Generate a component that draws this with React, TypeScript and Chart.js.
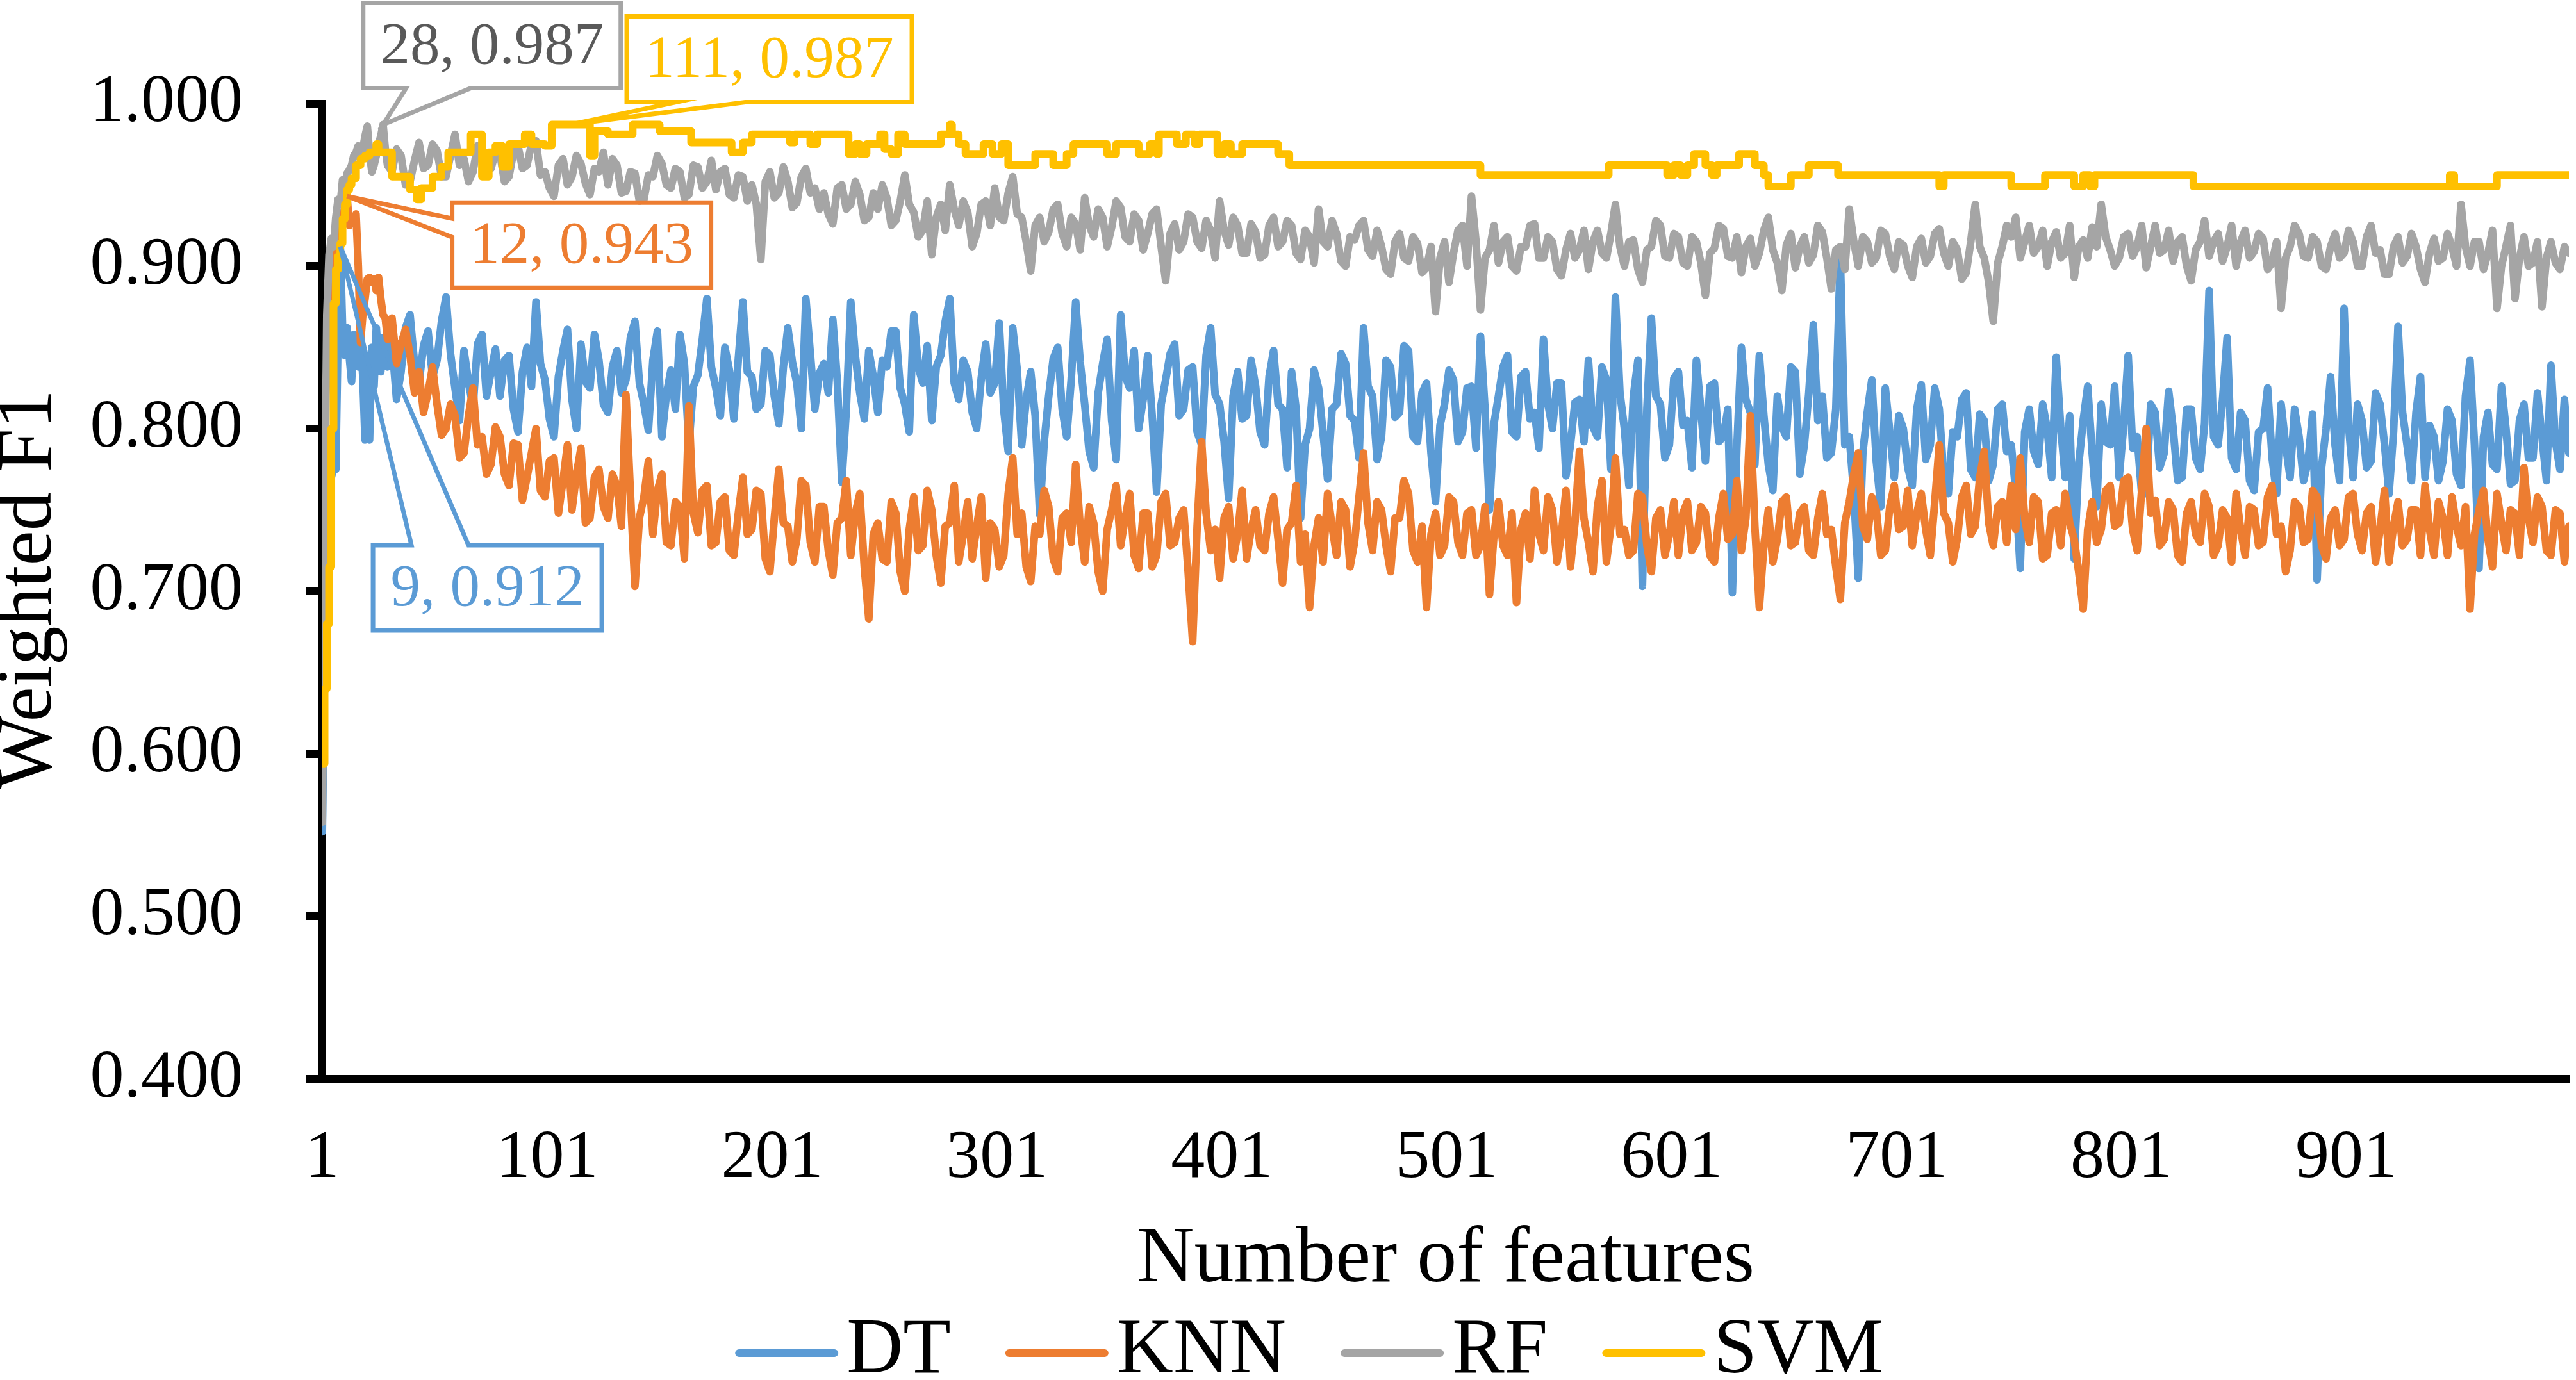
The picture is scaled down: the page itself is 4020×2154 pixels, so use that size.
import React, { useEffect, useRef } from 'react';
import { Chart, registerables, Plugin } from 'chart.js';

Chart.register(...registerables);

const FONT = "'Liberation Serif', 'Times New Roman', serif";

// Feature counts that were sampled: every count up to 30, then every 2nd one
const featureCounts: number[] = [];
for (let n = 1; n <= 30; n++) featureCounts.push(n);
for (let n = 32; n <= 1000; n += 2) featureCounts.push(n);

const xTickValues = [1, 101, 201, 301, 401, 501, 601, 701, 801, 901];

// Weighted F1 per sampled feature count
const dtF1 = [
  .552, .655, .722, .760, .770, .776, .775, .860, .912, .862, .845, .862, .844, .829, .858,
  .852, .838, .855, .832, .793, .840, .793, .850, .826, .862, .843, .835, .856, .848, .838,
  .852, .818, .835, .862, .870, .840, .828, .851, .860, .832, .842, .866,
  .881, .846, .825, .805, .848, .829, .813, .852, .858, .820, .835, .849,
  .820, .842, .845, .812, .798, .835, .850, .826, .878, .840, .830, .806,
  .795, .832, .848, .861, .818, .800, .852, .829, .825, .858, .842, .815,
  .810, .838, .848, .822, .830, .856, .866, .828, .815, .799, .842, .860,
  .795, .821, .836, .812, .858, .840, .790, .826, .833, .855, .880, .838,
  .825, .808, .850, .836, .806, .843, .878, .835, .832, .812, .815, .848,
  .845, .820, .803, .838, .862, .841, .828, .800, .880, .846, .812, .834,
  .840, .822, .867, .829, .767, .812, .878, .845, .822, .806, .848, .832,
  .810, .842, .838, .860, .860, .825, .815, .798, .870, .838, .828, .851,
  .805, .838, .845, .866, .880, .828, .818, .842, .835, .810, .800, .831,
  .852, .822, .828, .865, .812, .786, .862, .836, .790, .818, .835, .808,
  .747, .792, .820, .843, .850, .812, .795, .830, .878, .841, .815, .786,
  .776, .822, .840, .855, .805, .781, .870, .832, .825, .848, .800, .818,
  .845, .808, .761, .815, .830, .846, .852, .808, .812, .836, .838, .798,
  .790, .845, .862, .821, .815, .792, .757, .820, .835, .806, .808, .842,
  .826, .798, .790, .832, .848, .815, .812, .776, .835, .812, .745, .790,
  .800, .836, .825, .797, .769, .812, .815, .846, .840, .808, .805, .782,
  .862, .826, .820, .781, .795, .842, .838, .807, .810, .851, .848, .795,
  .792, .822, .828, .785, .755, .802, .815, .836, .830, .792, .798, .825,
  .826, .788, .857, .812, .750, .803, .820, .838, .845, .798, .795, .832,
  .835, .806, .810, .788, .855, .815, .800, .828, .828, .771, .790, .816,
  .818, .792, .842, .801, .795, .838, .830, .775, .881, .822, .800, .765,
  .820, .842, .703, .812, .868, .820, .815, .782, .790, .831, .835, .802,
  .805, .776, .842, .811, .780, .826, .828, .792, .795, .812, .699, .788,
  .850, .818, .810, .778, .845, .808, .778, .762, .820, .801, .795, .838,
  .835, .772, .790, .822, .864, .805, .820, .782, .785, .812, .906, .790,
  .795, .760, .708, .785, .810, .830, .780, .752, .825, .798, .770, .808,
  .800, .776, .765, .812, .827, .781, .790, .825, .812, .770, .760, .798,
  .795, .818, .822, .775, .770, .809, .805, .768, .778, .812, .815, .786,
  .790, .762, .714, .798, .812, .786, .778, .815, .800, .770, .844, .801,
  .770, .808, .720, .778, .805, .826, .785, .752, .815, .792, .790, .826,
  .770, .802, .845, .788, .795, .760, .760, .815, .810, .776, .785, .823,
  .800, .768, .770, .812, .812, .782, .775, .803, .885, .795, .790, .818,
  .856, .782, .775, .810, .805, .768, .762, .798, .800, .825, .782, .760,
  .815, .790, .770, .812, .795, .768, .780, .809, .707, .776, .800, .832,
  .790, .768, .874, .802, .770, .815, .805, .776, .780, .822, .815, .790,
  .760, .798, .863, .810, .790, .768, .810, .832, .770, .802, .795, .768,
  .780, .812, .805, .772, .765, .820, .842, .790, .714, .795, .810, .778,
  .775, .826, .800, .766, .768, .805, .815, .782, .782, .822, .795, .768,
  .839, .792, .775, .818, .785,
];

const knnF1 = [
  .765, .810, .835, .850, .872, .895, .910, .918, .925, .930, .936, .943, .925, .930, .928,
  .932, .900, .853, .870, .880, .892, .893, .890, .892, .885, .893, .880, .870, .868, .855,
  .868, .840, .852, .861, .845, .822, .835, .810, .822, .838, .815, .796,
  .800, .815, .808, .782, .785, .808, .825, .790, .795, .772, .778, .801,
  .795, .772, .765, .791, .790, .756, .770, .785, .800, .762, .758, .780,
  .782, .748, .768, .790, .750, .772, .788, .742, .745, .770, .775, .752,
  .745, .772, .765, .740, .821, .760, .703, .745, .758, .780, .735, .762,
  .772, .730, .728, .755, .752, .720, .814, .748, .736, .762, .765, .728,
  .730, .755, .758, .725, .722, .748, .770, .735, .738, .762, .760, .720,
  .712, .745, .775, .742, .740, .718, .732, .768, .765, .730, .718, .752,
  .752, .725, .710, .742, .745, .768, .722, .748, .760, .715, .683, .735,
  .742, .720, .718, .755, .748, .712, .700, .738, .758, .725, .728, .762,
  .750, .722, .705, .740, .742, .765, .718, .735, .755, .720, .740, .758,
  .708, .742, .738, .715, .722, .760, .782, .735, .748, .715, .706, .740,
  .735, .762, .752, .720, .712, .745, .748, .730, .778, .740, .718, .752,
  .742, .712, .700, .738, .750, .765, .728, .745, .760, .722, .714, .748,
  .748, .715, .722, .755, .760, .728, .730, .745, .750, .712, .669, .740,
  .792, .748, .725, .738, .708, .745, .752, .720, .735, .762, .720, .738,
  .750, .728, .725, .748, .758, .732, .705, .738, .742, .765, .718, .735,
  .690, .728, .745, .718, .760, .740, .722, .755, .750, .715, .730, .758,
  .785, .742, .725, .755, .750, .728, .712, .745, .745, .768, .760, .725,
  .718, .740, .690, .735, .748, .722, .728, .758, .755, .730, .722, .748,
  .750, .722, .728, .752, .698, .735, .755, .728, .722, .748, .693, .738,
  .748, .720, .762, .735, .725, .758, .750, .718, .735, .762, .715, .742,
  .786, .745, .730, .712, .752, .768, .718, .740, .782, .735, .738, .722,
  .725, .760, .758, .728, .712, .745, .750, .722, .735, .755, .722, .748,
  .755, .725, .730, .752, .748, .722, .718, .745, .760, .732, .735, .768,
  .725, .745, .808, .740, .690, .728, .750, .718, .732, .755, .758, .728,
  .730, .748, .752, .725, .722, .745, .760, .735, .738, .715, .695, .742,
  .755, .772, .785, .740, .732, .758, .750, .722, .725, .752, .765, .738,
  .740, .762, .728, .748, .760, .738, .722, .755, .790, .748, .742, .718,
  .732, .758, .765, .735, .740, .770, .786, .742, .728, .752, .755, .730,
  .765, .738, .782, .745, .730, .758, .755, .720, .722, .748, .750, .728,
  .760, .742, .732, .712, .689, .738, .755, .730, .738, .762, .765, .740,
  .742, .768, .770, .738, .725, .762, .800, .748, .756, .728, .732, .755,
  .750, .722, .718, .748, .755, .735, .730, .760, .752, .722, .728, .750,
  .745, .718, .760, .738, .722, .752, .750, .728, .730, .758, .765, .735,
  .740, .712, .725, .755, .752, .730, .732, .762, .758, .728, .720, .745,
  .750, .728, .732, .758, .760, .735, .725, .748, .752, .718, .738, .762,
  .718, .740, .755, .728, .732, .750, .750, .722, .765, .738, .722, .755,
  .745, .722, .758, .740, .728, .752, .689, .735, .750, .762, .732, .715,
  .760, .742, .725, .750, .748, .722, .776, .745, .730, .758, .752, .725,
  .722, .750, .748, .718, .740,
];

const rfF1 = [
  .558, .730, .870, .907, .917, .912, .930, .941, .938, .953, .950, .957, .959, .962, .968,
  .970, .974, .968, .972, .980, .986, .970, .958, .962, .968, .975, .980, .987, .972, .962,
  .958, .972, .968, .950, .952, .965, .976, .960, .962, .975, .971, .955,
  .955, .968, .981, .962, .966, .952, .958, .974, .973, .961, .960, .970,
  .969, .952, .955, .970, .974, .960, .962, .975, .977, .956, .958, .948,
  .943, .962, .966, .950, .955, .968, .963, .951, .944, .960, .958, .970,
  .950, .966, .962, .945, .946, .958, .957, .940, .941, .956, .955, .968,
  .963, .950, .948, .960, .958, .942, .944, .962, .961, .948, .952, .965,
  .947, .958, .960, .944, .942, .956, .955, .940, .950, .938, .904, .952,
  .958, .942, .945, .961, .952, .936, .939, .955, .960, .945, .948, .935,
  .945, .932, .926, .948, .950, .935, .938, .952, .944, .928, .930, .945,
  .935, .950, .942, .925, .928, .940, .956, .938, .933, .918, .922, .940,
  .907, .930, .938, .922, .950, .935, .925, .940, .933, .912, .920, .938,
  .940, .925, .948, .930, .928, .945, .955, .932, .930, .915, .897, .925,
  .930, .915, .921, .935, .938, .920, .912, .930, .926, .910, .942, .925,
  .918, .935, .930, .912, .924, .940, .936, .918, .915, .932, .928, .910,
  .920, .932, .935, .912, .891, .920, .926, .910, .915, .932, .930, .915,
  .911, .928, .922, .905, .940, .922, .913, .930, .925, .908, .908, .926,
  .921, .905, .907, .925, .930, .912, .915, .928, .925, .908, .904, .922,
  .918, .902, .935, .915, .912, .928, .920, .903, .900, .918, .916, .925,
  .928, .910, .906, .922, .912, .898, .895, .915, .920, .905, .903, .918,
  .914, .896, .899, .912, .872, .905, .915, .890, .908, .922, .925, .900,
  .943, .915, .873, .905, .910, .925, .902, .915, .918, .900, .897, .912,
  .912, .925, .926, .905, .905, .918, .915, .898, .894, .910, .920, .905,
  .910, .922, .898, .915, .922, .908, .905, .920, .938, .912, .900, .915,
  .916, .898, .890, .910, .912, .928, .925, .906, .905, .920, .918, .902,
  .900, .918, .915, .902, .882, .908, .911, .925, .923, .906, .905, .918,
  .896, .912, .917, .900, .908, .922, .930, .910, .902, .885, .913, .920,
  .899, .912, .918, .902, .907, .925, .921, .905, .886, .910, .912, .898,
  .935, .915, .900, .918, .915, .902, .905, .922, .920, .906, .898, .915,
  .913, .900, .893, .912, .917, .902, .906, .920, .923, .908, .900, .915,
  .910, .892, .896, .915, .938, .912, .905, .890, .866, .902, .912, .925,
  .918, .930, .905, .915, .925, .908, .912, .922, .900, .915, .921, .905,
  .908, .925, .893, .912, .916, .905, .924, .912, .938, .918, .910, .900,
  .905, .918, .920, .906, .912, .925, .899, .912, .925, .908, .910, .922,
  .903, .915, .918, .900, .891, .910, .915, .928, .906, .915, .920, .903,
  .912, .925, .900, .915, .922, .905, .909, .920, .917, .898, .902, .915,
  .874, .905, .912, .925, .920, .906, .905, .918, .915, .900, .898, .912,
  .920, .905, .908, .922, .915, .900, .900, .918, .925, .908, .910, .895,
  .895, .912, .918, .902, .906, .920, .912, .898, .890, .908, .917, .903,
  .905, .920, .912, .900, .938, .912, .900, .915, .915, .898, .908, .922,
  .874, .900, .912, .925, .880, .905, .918, .900, .902, .915, .875, .905,
  .915, .902, .898, .912, .908,
];

// SVM changes in steps: [feature count where the level starts, weighted F1]
const svmSteps: [number, number][] = [
  [1, .594], [2, .640], [3, .680], [4, .715], [5, .800], [6, .877], [7, .898], [8, .906],
  [9, .914], [10, .929], [11, .938], [12, .947], [13, .950], [14, .954], [16, .962],
  [18, .966], [20, .968], [22, .970], [25, .975], [26, .970], [32, .955], [40, .947],
  [43, .941], [45, .948], [50, .955], [54, .961], [57, .970], [67, .981], [72, .955],
  [75, .970], [78, .974], [81, .961], [84, .975], [91, .981], [94, .975], [100, .974],
  [103, .987], [120, .968], [122, .983], [128, .981], [139, .987], [151, .983], [165, .976],
  [183, .970], [188, .976], [192, .981], [209, .976], [211, .981], [218, .975], [221, .981],
  [235, .969], [238, .975], [240, .969], [243, .975], [249, .981], [251, .972], [254, .969],
  [257, .981], [260, .975], [276, .981], [280, .987], [281, .981], [284, .975], [287, .969],
  [295, .975], [299, .969], [303, .975], [306, .962], [318, .969], [326, .962], [332, .969],
  [335, .975], [350, .969], [354, .975], [364, .969], [369, .975], [372, .969], [373, .981],
  [381, .975], [385, .981], [389, .975], [391, .981], [399, .969], [402, .975], [405, .969],
  [410, .975], [426, .969], [431, .962], [516, .956], [573, .962], [599, .956], [602, .962],
  [605, .956], [608, .962], [611, .969], [616, .962], [619, .956], [621, .962], [631, .969],
  [638, .962], [642, .956], [644, .949], [654, .956], [662, .962], [675, .956], [720, .949],
  [722, .956], [752, .949], [767, .956], [780, .949], [784, .956], [787, .949], [789, .956],
  [833, .949], [947, .956], [949, .949], [968, .956], [1000, .956],
];

const seriesColors = ['#5B9BD5', '#ED7D31', '#A5A5A5', '#FFC000'];

// Best result of each model, labelled with a callout
type Callout = {
  feature: number; score: number; border: string; text: string;
  dx: number; dy: number; w: number; h: number;
  side: 'top' | 'bottom' | 'left'; a: number; b: number;
};
const callouts: Callout[] = [
  { feature: 9, score: 0.912, border: '#5B9BD5', text: '#5B9BD5', dx: 51, dy: 466, w: 357, h: 133, side: 'top', a: 60, b: 149 },
  { feature: 12, score: 0.943, border: '#ED7D31', text: '#ED7D31', dx: 164, dy: 10, w: 404, h: 133, side: 'left', a: 25, b: 54 },
  { feature: 28, score: 0.987, border: '#A5A5A5', text: '#595959', dx: -31, dy: -190, w: 402, h: 133, side: 'bottom', a: 67, b: 168 },
  { feature: 111, score: 0.987, border: '#FFC000', text: '#FFC000', dx: 89, dy: -169, w: 445, h: 134, side: 'bottom', a: 77, b: 185 },
];

const calloutPlugin: Plugin<'line'> = {
  id: 'callouts',
  afterDatasetsDraw(chart) {
    const { ctx } = chart;
    const x = chart.scales.x;
    const y = chart.scales.y;
    ctx.save();
    for (const c of callouts) {
      const ax = x.getPixelForValue(c.feature);
      const ay = y.getPixelForValue(c.score);
      const left = ax + c.dx;
      const top = ay + c.dy;
      const right = left + c.w;
      const bottom = top + c.h;
      ctx.beginPath();
      ctx.moveTo(left, top);
      if (c.side === 'top') {
        ctx.lineTo(left + c.a, top);
        ctx.lineTo(ax, ay);
        ctx.lineTo(left + c.b, top);
      }
      ctx.lineTo(right, top);
      ctx.lineTo(right, bottom);
      if (c.side === 'bottom') {
        ctx.lineTo(left + c.b, bottom);
        ctx.lineTo(ax, ay);
        ctx.lineTo(left + c.a, bottom);
      }
      ctx.lineTo(left, bottom);
      if (c.side === 'left') {
        ctx.lineTo(left, top + c.b);
        ctx.lineTo(ax, ay);
        ctx.lineTo(left, top + c.a);
      }
      ctx.closePath();
      ctx.strokeStyle = c.border;
      ctx.lineWidth = 7;
      ctx.lineJoin = 'miter';
      ctx.stroke();
      ctx.fillStyle = c.text;
      ctx.font = `93px ${FONT}`;
      ctx.textAlign = 'center';
      ctx.textBaseline = 'middle';
      ctx.fillText(`${c.feature}, ${c.score.toFixed(3)}`, (left + right) / 2, (top + bottom) / 2 + 3);
    }
    ctx.restore();
  },
  afterDraw(chart) {
    const { ctx } = chart;
    ctx.save();
    // y axis title
    ctx.translate(47, 920);
    ctx.rotate(-Math.PI / 2);
    ctx.font = `122px ${FONT}`;
    ctx.fillStyle = '#000';
    ctx.textAlign = 'center';
    ctx.textBaseline = 'middle';
    ctx.fillText('Weighted F1', 0, 0);
    ctx.restore();

    // legend
    ctx.save();
    ctx.font = `122px ${FONT}`;
    const items = chart.data.datasets.map((ds) => ({ label: String(ds.label), color: String(ds.borderColor) }));
    const sample = 161;
    const gapText = 13;
    const gapItem = 85;
    const widths = items.map((it) => ctx.measureText(it.label).width);
    const total = widths.reduce((s, w) => s + sample + gapText + w, 0) + gapItem * (items.length - 1);
    let cx = 2043 - total / 2;
    items.forEach((it, i) => {
      ctx.strokeStyle = it.color;
      ctx.lineWidth = 12;
      ctx.lineCap = 'round';
      ctx.beginPath();
      ctx.moveTo(cx + 6, 2112);
      ctx.lineTo(cx + sample - 6, 2112);
      ctx.stroke();
      ctx.fillStyle = '#000';
      ctx.textAlign = 'left';
      ctx.textBaseline = 'middle';
      ctx.fillText(it.label, cx + sample + gapText, 2110);
      cx += sample + gapText + widths[i] + gapItem;
    });
    ctx.restore();
  },
};

const lineStyle = {
  borderWidth: 12,
  pointRadius: 0,
  pointHoverRadius: 0,
  fill: false,
  tension: 0,
  borderJoinStyle: 'round' as const,
  borderCapStyle: 'round' as const,
};

const App: React.FC = () => {
  const canvasRef = useRef<HTMLCanvasElement | null>(null);
  const chartRef = useRef<Chart | null>(null);

  useEffect(() => {
    if (!canvasRef.current) return;
    const ctx = canvasRef.current.getContext('2d');
    if (!ctx) return;
    if (chartRef.current) chartRef.current.destroy();

    chartRef.current = new Chart(ctx, {
      type: 'line',
      data: {
        datasets: [
          { label: 'DT', data: featureCounts.map((n, i) => ({ x: n, y: dtF1[i] })), borderColor: seriesColors[0], order: 3, ...lineStyle },
          { label: 'KNN', data: featureCounts.map((n, i) => ({ x: n, y: knnF1[i] })), borderColor: seriesColors[1], order: 2, ...lineStyle },
          { label: 'RF', data: featureCounts.map((n, i) => ({ x: n, y: rfF1[i] })), borderColor: seriesColors[2], order: 1, ...lineStyle },
          { label: 'SVM', data: svmSteps.map(([n, v]) => ({ x: n, y: v })), borderColor: seriesColors[3], order: 0, stepped: true, ...lineStyle },
        ],
      },
      options: {
        animation: false,
        responsive: false,
        devicePixelRatio: 1,
        layout: { padding: { top: 160, right: 11, bottom: 144, left: 0 } },
        plugins: {
          legend: { display: false },
          tooltip: { enabled: false },
        },
        scales: {
          x: {
            type: 'linear',
            min: 1,
            max: 1000,
            afterBuildTicks: (scale) => {
              scale.ticks = xTickValues.map((value) => ({ value }));
            },
            afterFit: (scale) => {
              scale.height = 354;
            },
            ticks: {
              autoSkip: false,
              maxRotation: 0,
              padding: 62,
              color: '#000',
              font: { family: FONT, size: 106 },
              callback: (v) => String(v),
            },
            grid: { display: false, drawTicks: false },
            border: { display: true, color: '#000', width: 12 },
            title: {
              display: true,
              text: 'Number of features',
              color: '#000',
              font: { family: FONT, size: 124 },
              padding: { top: 0, bottom: -4 },
            },
          },
          y: {
            min: 0.4,
            max: 1.0,
            afterFit: (scale) => {
              scale.width = 503;
            },
            ticks: {
              stepSize: 0.1,
              padding: 98,
              color: '#000',
              font: { family: FONT, size: 106 },
              callback: (v) => Number(v).toFixed(3),
            },
            grid: {
              display: true,
              drawOnChartArea: false,
              drawTicks: true,
              tickLength: 26,
              lineWidth: 12,
              color: '#000',
            },
            border: { display: true, color: '#000', width: 12 },
          },
        },
      },
      plugins: [calloutPlugin],
    });

    return () => {
      if (chartRef.current) {
        chartRef.current.destroy();
        chartRef.current = null;
      }
    };
  }, []);

  return (
    <div style={{ position: 'fixed', left: 0, top: 0, width: 4020, height: 2154, overflow: 'hidden', background: '#fff' }}>
      <canvas
        ref={canvasRef}
        width={4020}
        height={2182}
        style={{ display: 'block', width: '4020px', height: '2182px' }}
      />
    </div>
  );
};

export default App;
